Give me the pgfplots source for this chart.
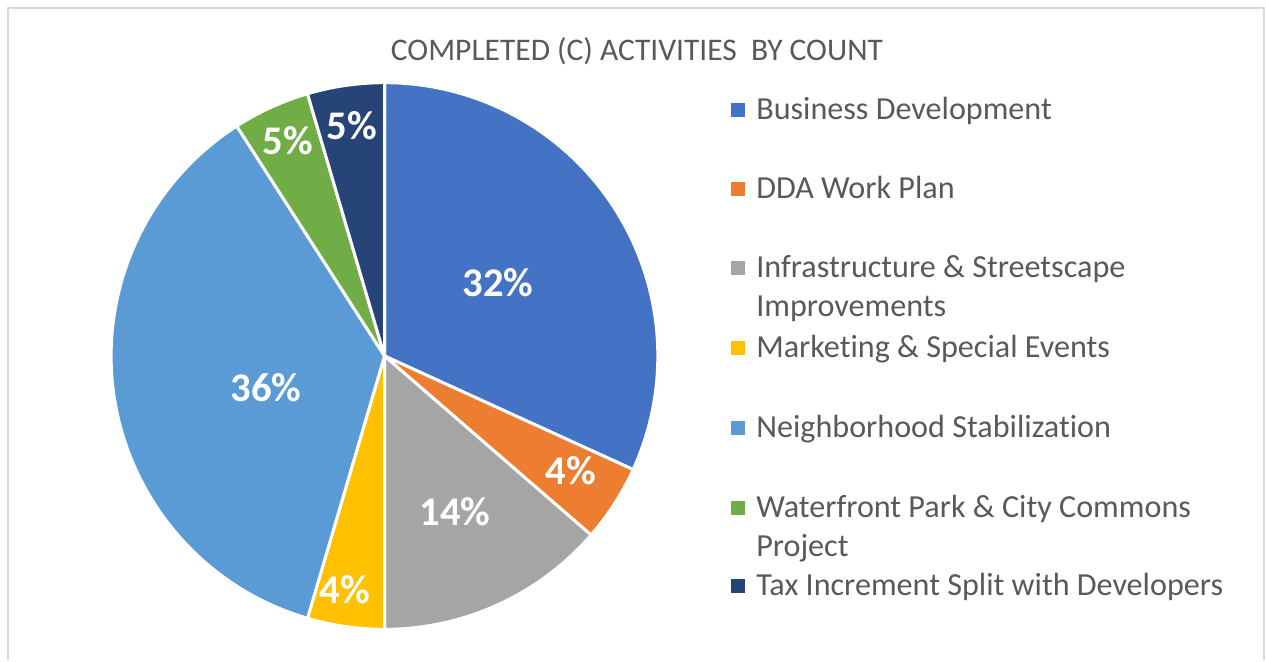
\documentclass[border=0pt]{standalone}
\usepackage{pgfplots}
\pgfplotsset{compat=1.18}
\usepackage{fontspec}
\setmainfont{Carlito}[Ligatures={NoCommon}]
\definecolor{cBus}{HTML}{4472C4}
\definecolor{cDDA}{HTML}{ED7D31}
\definecolor{cInf}{HTML}{A5A5A5}
\definecolor{cMkt}{HTML}{FFC000}
\definecolor{cNbh}{HTML}{5B9BD5}
\definecolor{cWtr}{HTML}{70AD47}
\definecolor{cTax}{HTML}{264478}
\definecolor{txtgray}{HTML}{595959}
\definecolor{brdgray}{HTML}{D9D9D9}
% counts: Business 7, DDA 1, Infrastructure 3, Marketing 1, Neighborhood 8, Waterfront 1, Tax 1 (total 22)
\newcommand\pieslice[3]{%
  \filldraw[fill=#3, draw=white, line width=2.25pt, line join=round]
    (axis cs:384.5,356) -- ++({90-360*#1/22}:205pt)
    arc[start angle={90-360*#1/22}, end angle={90-360*#2/22}, radius=205pt] -- cycle;
}
\newcommand\legfont{\fontsize{24.1}{29}\selectfont}
\newcommand\legitem[3]{% baseline, color, text
  \fill[#2] (axis cs:731,#1-16.5) rectangle (axis cs:745,#1-2.5);
  \node[anchor=base west, inner sep=0pt, text=txtgray, font=\legfont] at (axis cs:756,#1) {#3};
}
\newcommand\legline[2]{%
  \node[anchor=base west, inner sep=0pt, text=txtgray, font=\legfont] at (axis cs:756,#1) {#2};
}
\newcommand\plabel[3]{%
  \node[text=white, inner sep=0pt, font=\bfseries\fontsize{30.5}{33}\selectfont] at (axis cs:#1,#2) {#3};
}
\begin{document}
\begin{tikzpicture}
\begin{axis}[
  scale only axis, width=949.5pt, height=495pt,
  xmin=0, xmax=1266, ymin=0, ymax=660, y dir=reverse,
  hide axis, clip=false]
  \path (axis cs:0,0) rectangle (axis cs:1266,660);
  \draw[brdgray, line width=1.5pt] (axis cs:8,660) -- (axis cs:8,8) -- (axis cs:1264,8) -- (axis cs:1264,660);
  % cumulative counts: 0, 7, 8, 11, 12, 20, 21, 22
  \pieslice{0}{7}{cBus}
  \pieslice{7}{8}{cDDA}
  \pieslice{8}{11}{cInf}
  \pieslice{11}{12}{cMkt}
  \pieslice{12}{20}{cNbh}
  \pieslice{20}{21}{cWtr}
  \pieslice{21}{22}{cTax}
  \plabel{498}{282.5}{32\%}
  \plabel{571}{471}{4\%}
  \plabel{455}{512}{14\%}
  \plabel{345}{590}{4\%}
  \plabel{266}{388}{36\%}
  \plabel{288}{141}{5\%}
  \plabel{352}{126}{5\%}
  \node[anchor=base, inner sep=0pt, text=txtgray, font=\fontsize{23.6}{28}\selectfont] at (axis cs:637,60) {COMPLETED (C) ACTIVITIES\ \ BY COUNT};
  \legitem{119}{cBus}{Business Development}
  \legitem{198}{cDDA}{DDA Work Plan}
  \legitem{277}{cInf}{Infrastructure \& Streetscape}
  \legline{316}{Improvements}
  \legitem{357}{cMkt}{Marketing \& Special Events}
  \legitem{437}{cNbh}{Neighborhood Stabilization}
  \legitem{517}{cWtr}{Waterfront Park \& City Commons}
  \legline{556}{Project}
  \legitem{595}{cTax}{Tax Increment Split with Developers}
\end{axis}
\end{tikzpicture}
\end{document}
